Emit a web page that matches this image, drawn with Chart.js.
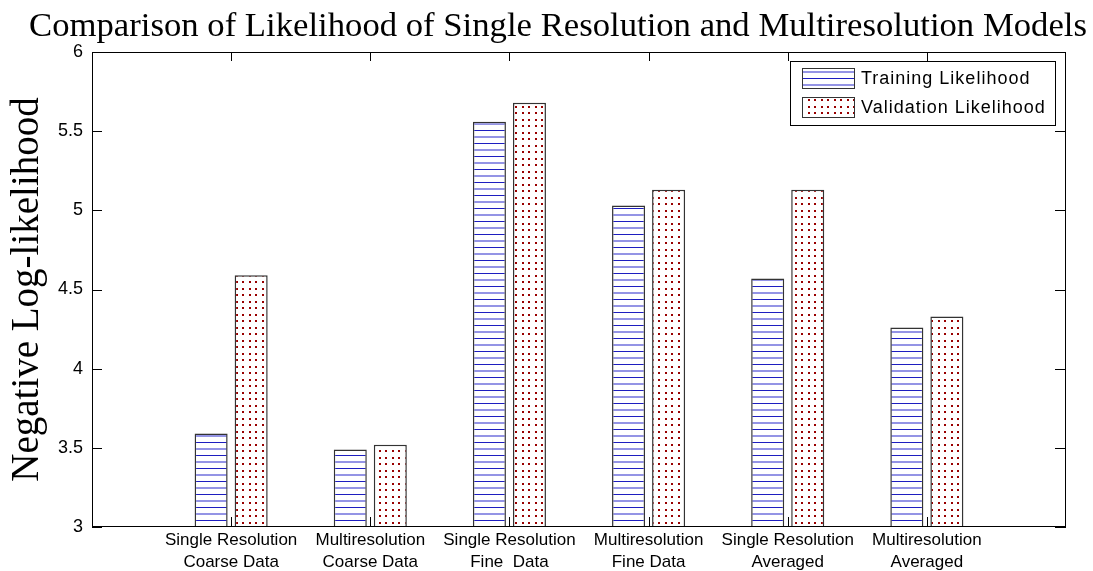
<!DOCTYPE html>
<html>
<head>
<meta charset="utf-8">
<script src="https://cdn.jsdelivr.net/npm/chart.js@4.4.1/dist/chart.umd.min.js"></script>
<style>
  body { margin: 0; background: #fff; }
  #wrap { width: 1093px; height: 571px; }
</style>
</head>
<body>
<div id="wrap"><canvas id="likelihoodChart" width="1093" height="571"></canvas></div>
<script>
// values
const categories = [
  ['Single Resolution', 'Coarse Data'],
  ['Multiresolution', 'Coarse Data'],
  ['Single Resolution', 'Fine  Data'],
  ['Multiresolution', 'Fine Data'],
  ['Single Resolution', 'Averaged'],
  ['Multiresolution', 'Averaged']
];
const trainingValues = [3.59, 3.49, 5.56, 5.03, 4.57, 4.26];
const validationValues = [4.59, 3.52, 5.68, 5.13, 5.13, 4.33];
const seriesNames = ['Training Likelihood', 'Validation Likelihood'];
const yMin = 3, yMax = 6, yStep = 0.5;

const TITLE = 'Comparison of Likelihood of Single Resolution and Multiresolution Models';

// horizontal line hatch (blue)
function hatchPattern() {
  const c = document.createElement('canvas');
  c.width = 8; c.height = 13;
  const g = c.getContext('2d');
  g.fillStyle = '#fff';
  g.fillRect(0, 0, 8, 13);
  g.fillStyle = '#1e1ec0';
  g.fillRect(0, 0, 8, 1);
  g.fillStyle = 'rgba(90,90,215,0.65)';
  g.fillRect(0, 6, 8, 2);
  return g.createPattern(c, 'repeat');
}

// dotted fill (dark red)
function dotPattern() {
  const c = document.createElement('canvas');
  c.width = 13; c.height = 13;
  const g = c.getContext('2d');
  g.fillStyle = '#fff';
  g.fillRect(0, 0, 13, 13);
  g.fillStyle = '#990000';
  g.fillRect(2, 2, 2, 2);
  g.fillRect(8, 2, 2, 2);
  g.fillRect(2, 8, 2, 2);
  g.fillRect(8, 8, 2, 2);
  return g.createPattern(c, 'repeat');
}

// empty slot at each end so the categories sit at 1..6 on a 0..7 axis
const xLabels = [''].concat(categories, ['']);
const pad = arr => [null].concat(arr, [null]);

const frame = {
  id: 'frame',
  afterDraw(chart) {
    const { ctx, chartArea: a, scales: { x, y } } = chart;
    ctx.save();
    ctx.strokeStyle = '#000';
    ctx.lineWidth = 1;
    ctx.strokeRect(a.left + 0.5, a.top + 0.5, a.width - 1, a.height - 1);

    // inward tick marks
    ctx.beginPath();
    y.ticks.forEach(t => {
      const py = Math.round(y.getPixelForValue(t.value)) + 0.5;
      ctx.moveTo(a.left, py); ctx.lineTo(a.left + 10, py);
      ctx.moveTo(a.right, py); ctx.lineTo(a.right - 11, py);
    });
    for (let i = 1; i <= categories.length; i++) {
      const px = Math.round(x.getPixelForValue(i)) + 0.5;
      ctx.moveTo(px, a.bottom); ctx.lineTo(px, a.bottom - 10);
      ctx.moveTo(px, a.top); ctx.lineTo(px, a.top + 9);
    }
    ctx.stroke();

    // legend
    const bx = a.right - 276, by = a.top + 9, bw = 265, bh = 64;
    ctx.fillStyle = '#fff';
    ctx.fillRect(bx, by, bw, bh);
    ctx.strokeStyle = '#000';
    ctx.strokeRect(bx + 0.5, by + 0.5, bw, bh);
    chart.data.datasets.forEach((ds, i) => {
      const sy = by + 7 + i * 29;
      ctx.fillStyle = ds.backgroundColor;
      ctx.fillRect(bx + 12, sy, 52, 20);
      ctx.strokeStyle = '#333';
      ctx.strokeRect(bx + 12.5, sy + 0.5, 52, 20);
      ctx.fillStyle = '#000';
      ctx.font = '18px "Liberation Sans", Arial, sans-serif';
      ctx.textBaseline = 'middle';
      ctx.textAlign = 'left';
      if ('letterSpacing' in ctx) ctx.letterSpacing = '1px';
      ctx.fillText(ds.label, bx + 71, sy + 11);
    });
    ctx.restore();
  },
  beforeDraw(chart) {
    const { ctx } = chart;
    ctx.save();
    ctx.fillStyle = '#000';
    ctx.font = '34.7px "Liberation Serif", "Times New Roman", serif';
    ctx.textAlign = 'center';
    ctx.textBaseline = 'middle';
    ctx.fillText(TITLE, 558, 27);
    ctx.restore();
  }
};

const ctx = document.getElementById('likelihoodChart').getContext('2d');
new Chart(ctx, {
  type: 'bar',
  data: {
    labels: xLabels,
    datasets: [{
      label: seriesNames[0],
      data: pad(trainingValues),
      backgroundColor: hatchPattern(),
      borderColor: '#333',
      borderWidth: 1.5
    }, {
      label: seriesNames[1],
      data: pad(validationValues),
      backgroundColor: dotPattern(),
      borderColor: '#333',
      borderWidth: 1.5
    }]
  },
  options: {
    responsive: false,
    animation: false,
    layout: { padding: { top: 52, right: 27, left: 0, bottom: 0 } },
    categoryPercentage: 0.5755,
    barPercentage: 0.825,
    plugins: {
      legend: { display: false },
      title: { display: false },
      tooltip: { enabled: false }
    },
    scales: {
      x: {
        offset: false,
        grid: { display: false, drawTicks: false },
        border: { display: false },
        ticks: {
          autoSkip: false,
          maxRotation: 0,
          minRotation: 0,
          padding: 3,
          color: '#000',
          font: { family: '"Liberation Sans", Arial, sans-serif', size: 17, lineHeight: 1.25 }
        },
        afterFit(scale) { scale.height = 44; }
      },
      y: {
        min: yMin,
        max: yMax,
        grid: { display: false, drawTicks: false },
        border: { display: false },
        ticks: {
          stepSize: yStep,
          padding: 9,
          color: '#000',
          font: { family: '"Liberation Sans", Arial, sans-serif', size: 18 },
          callback: v => String(v)
        },
        title: {
          display: true,
          text: 'Negative Log-likelihood',
          color: '#000',
          padding: { top: 8, bottom: 0 },
          font: { family: '"Liberation Serif", "Times New Roman", serif', size: 39, lineHeight: 1 }
        },
        afterFit(scale) { scale.width = 92; }
      }
    }
  },
  plugins: [frame]
});
</script>
</body>
</html>
